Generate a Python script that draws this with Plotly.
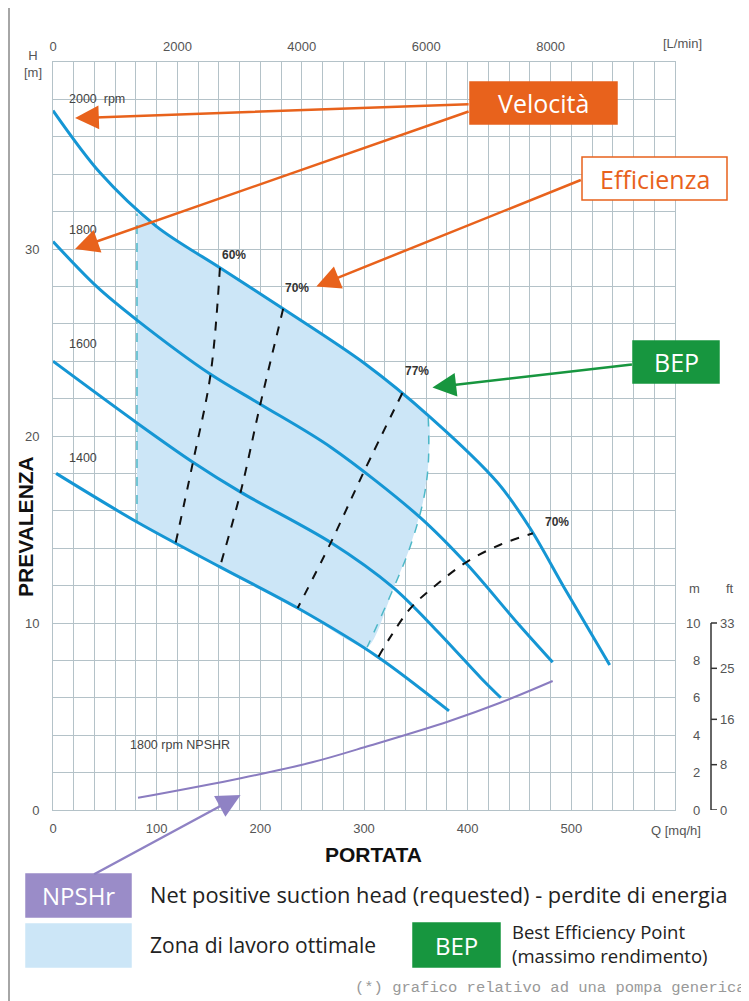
import plotly.graph_objects as go

# pump head curves: Q [m3/h] -> H [m]
q_2000 = [0, 45, 100, 161, 222, 300, 364, 429, 461, 493, 537]
h_2000 = [37.4, 34.1, 31.2, 29.0, 26.8, 23.9, 21.0, 17.5, 15.0, 11.9, 7.75]
q_1800 = [0, 42, 81, 152, 200, 268, 353, 400, 448, 482]
h_1800 = [30.4, 28.0, 26.2, 23.3, 21.7, 19.4, 15.7, 13.1, 10.0, 7.9]
q_1600 = [0, 81, 135, 181, 268, 328, 370, 413, 432]
h_1600 = [24.0, 20.7, 18.6, 17.0, 14.3, 11.9, 9.6, 7.05, 6.0]
q_1400 = [3, 81, 161, 236, 313, 382]
h_1400 = [18.0, 15.4, 13.0, 10.8, 8.2, 5.3]

# iso-efficiency lines
q_eff60 = [161, 152, 135, 118]
h_eff60 = [29.0, 23.3, 18.6, 14.2]
q_eff70 = [222, 200, 181, 161]
h_eff70 = [26.8, 21.7, 17.0, 13.0]
q_eff77 = [337, 300, 268, 236]
h_eff77 = [22.3, 18.1, 14.3, 10.8]
q_eff70r = [314, 326, 345, 371, 400, 432, 463]
h_eff70r = [8.2, 9.3, 10.8, 12.1, 13.3, 14.2, 14.8]

# NPSHR at 1800 rpm
q_npsh = [82, 181, 250, 306, 382, 432, 482]
h_npsh = [0.65, 1.7, 2.55, 3.45, 4.75, 5.75, 6.9]

# optimal working zone
zone_q = [81, 100, 161, 222, 300, 337, 362, 362, 357, 344, 328, 303, 236, 161, 81]
zone_h = [31.9, 31.2, 29.0, 26.8, 23.9, 22.3, 21.0, 18.5, 16.5, 14.0, 11.8, 8.7, 10.8, 13.0, 15.4]
zone_left_q = [81, 81]
zone_left_h = [15.4, 31.9]
zone_right_q = [362, 362, 357, 344, 328, 303]
zone_right_h = [21.0, 18.5, 16.5, 14.0, 11.8, 8.7]

q_ticks = [0, 100, 200, 300, 400, 500]
lmin_ticks = [0, 2000, 4000, 6000, 8000]
h_ticks = [0, 10, 20, 30]
m_ticks = [0, 2, 4, 6, 8, 10]
ft_ticks = [0, 8, 16, 25, 33]

# the page body adds an 8px offset, so the figure is 8px smaller
OFF = 8
W, HT = 749, 1001
ML, MR, MT, MB = 53, 74, 62, 191

BLUE = "#1596d4"
ORANGE = "#e8621c"
GREEN = "#17963f"
PURPLE = "#9a8cc8"
ZONE = "#cce6f7"
GRID = "#b4c2c8"
GRAY = "#555555"
FONT = "Liberation Sans"
CAL = "Open Sans"


def px(x):
    return (x - ML) / (W - ML - MR)


def py(y):
    return (HT - MB - y) / (HT - MT - MB)


fig = go.Figure()

fig.add_trace(go.Scatter(x=zone_q, y=zone_h, fill="toself", fillcolor=ZONE,
                         mode="lines", line=dict(width=0, shape="spline", smoothing=0.6)))
for zq, zh in [(zone_left_q, zone_left_h), (zone_right_q, zone_right_h)]:
    fig.add_trace(go.Scatter(x=zq, y=zh, mode="lines",
                             line=dict(color="#4db8c8", width=1.5, dash="dash", shape="spline")))

for q, h in [(q_2000, h_2000), (q_1800, h_1800), (q_1600, h_1600), (q_1400, h_1400)]:
    fig.add_trace(go.Scatter(x=q, y=h, mode="lines",
                             line=dict(color=BLUE, width=3, shape="spline", smoothing=0.9)))

fig.add_trace(go.Scatter(x=q_npsh, y=h_npsh, mode="lines",
                         line=dict(color="#8a7cc0", width=2, shape="spline", smoothing=1)))

for q, h in [(q_eff60, h_eff60), (q_eff70, h_eff70), (q_eff77, h_eff77), (q_eff70r, h_eff70r)]:
    fig.add_trace(go.Scatter(x=q, y=h, mode="lines",
                             line=dict(color="#111111", width=2, dash="dash", shape="spline")))

# carries the top L/min axis
fig.add_trace(go.Scatter(x=[], y=[], xaxis="x2"))

ann = []
shapes = []

# curve labels
for text, q, h in [("2000 &nbsp;rpm", 13.5, 38.0), ("1800", 13.5, 31.0),
                   ("1600", 13.5, 24.9), ("1400", 13.5, 18.8),
                   ("1800 rpm NPSHR", 72, 3.5)]:
    ann.append(dict(x=q, y=h, text=text, showarrow=False, xanchor="left", yanchor="middle",
                    font=dict(family=FONT, size=12.5, color="#444")))
for text, q, h in [("60%", 161, 29.7), ("70%", 222, 27.9), ("77%", 338, 23.5), ("70%", 473, 15.4)]:
    ann.append(dict(x=q, y=h, text=f"<b>{text}</b>", showarrow=False, xanchor="left",
                    yanchor="middle", font=dict(family=FONT, size=12, color="#333")))

# arrows
for q, h, ax, ay, col in [(21.3, 37.0, 395, -14, ORANGE), (21.3, 30.0, 395, -138, ORANGE),
                          (254, 28.0, 266, -107, ORANGE), (366, 22.6, 201, -23, GREEN),
                          (181, 0.8, -148, 80, "#8f82c4")]:
    ann.append(dict(x=q, y=h, ax=ax, ay=ay, text="", showarrow=True, arrowhead=2,
                    arrowsize=1.9, arrowwidth=2.5, arrowcolor=col, standoff=0))


def box(x0, y0, x1, y1, fill, line=None, text=None, tcolor="white", size=25):
    shapes.append(dict(type="rect", xref="paper", yref="paper",
                       x0=px(x0), x1=px(x1), y0=py(y1), y1=py(y0), fillcolor=fill,
                       line=dict(color=line or fill, width=1.5), layer="above"))
    if text:
        ann.append(dict(xref="paper", yref="paper", x=px((x0 + x1) / 2), y=py((y0 + y1) / 2),
                        text=text, showarrow=False, xanchor="center", yanchor="middle",
                        font=dict(family=CAL, size=size, color=tcolor)))


box(470, 82, 617, 124, ORANGE, text="Velocità")
box(582, 157, 727, 200, "white", line=ORANGE, text="Efficienza", tcolor=ORANGE)
box(633, 341, 719, 383, GREEN, text="BEP")

# legend
box(26, 874, 131, 917, PURPLE, text="NPSHr", size=24)
box(26, 924, 131, 967, ZONE)
box(413, 923, 500, 967, GREEN, text="BEP", size=24)


def label(x, y, text, size=13, color=GRAY, anchor="center", family=FONT, angle=0):
    ann.append(dict(xref="paper", yref="paper", x=px(x), y=py(y), text=text,
                    showarrow=False, xanchor=anchor, yanchor="middle", textangle=angle,
                    font=dict(family=family, size=size, color=color)))


label(148, 895, "Net positive suction head (requested) - perdite di energia",
      size=21.8, color="#222", anchor="left", family=CAL)
label(148, 945, "Zona di lavoro ottimale", size=21, color="#222", anchor="left", family=CAL)
label(510, 931, "Best Efficiency Point", size=18.5, color="#222", anchor="left", family=CAL)
label(510, 955.5, "(massimo rendimento)", size=18.5, color="#222", anchor="left", family=CAL)
label(748, 988, "(*) grafico relativo ad una pompa generica", size=15.5, color="#999",
      anchor="right", family="Liberation Mono")

label(25, 527, "<b>PREVALENZA</b>", size=21, color="#111", angle=-90)
label(373, 855, "<b>PORTATA</b>", size=21, color="#111")
label(33, 64, "H<br>[m]")
label(682, 43, "[L/min]")
label(676, 830, "Q [mq/h]")

# NPSH side scale (m / ft)
label(695, 588, "m")
label(730, 588, "ft")
for m in m_ticks:
    ann.append(dict(xref="paper", yref="y", x=px(702), y=m, text=str(m), showarrow=False,
                    xanchor="right", yanchor="middle",
                    font=dict(family=FONT, size=13, color=GRAY)))
shapes.append(dict(type="line", xref="paper", yref="y", x0=px(711), x1=px(711),
                   y0=0, y1=ft_ticks[-1] / 3.3, line=dict(color="#333", width=1.5)))
for ft in ft_ticks:
    shapes.append(dict(type="line", xref="paper", yref="y", x0=px(711), x1=px(717),
                       y0=ft / 3.3, y1=ft / 3.3, line=dict(color="#333", width=1.5)))
    ann.append(dict(xref="paper", yref="y", x=px(718), y=ft / 3.3, text=str(ft),
                    showarrow=False, xanchor="left", yanchor="middle",
                    font=dict(family=FONT, size=13, color=GRAY)))

# page frame on the left
shapes.append(dict(type="line", xref="paper", yref="paper", x0=px(9), x1=px(9),
                   y0=py(HT), y1=py(0), line=dict(color="#888", width=1.5)))

grid_q = list(range(0, 601, 20))
grid_h = list(range(0, 41, 2))
tick_font = dict(family=FONT, size=13, color=GRAY)

fig.update_layout(
    width=W - OFF, height=HT - OFF,
    margin=dict(l=ML - OFF, r=MR, t=MT - OFF, b=MB, autoexpand=False),
    paper_bgcolor="white", plot_bgcolor="white",
    showlegend=False,
    xaxis=dict(range=[0, 600], tickvals=grid_q,
               ticktext=[str(v) if v in q_ticks else "" for v in grid_q],
               showgrid=True, gridcolor=GRID, gridwidth=1, zeroline=False,
               showline=True, linecolor=GRID, mirror=True, ticks="",
               ticklabelstandoff=6, tickfont=tick_font),
    xaxis2=dict(range=[0, 10000], overlaying="x", side="top", anchor="y",
                tickvals=lmin_ticks, showgrid=False, zeroline=False, ticks="",
                ticklabelstandoff=7, tickfont=tick_font),
    yaxis=dict(range=[0, 40], tickvals=grid_h,
               ticktext=[str(v) if v in h_ticks else "" for v in grid_h],
               showgrid=True, gridcolor=GRID, gridwidth=1, zeroline=False,
               showline=True, linecolor=GRID, mirror=True, ticks="",
               ticklabelstandoff=10, tickfont=tick_font),
    annotations=ann,
    shapes=shapes,
)

fig.write_html("out.html")
